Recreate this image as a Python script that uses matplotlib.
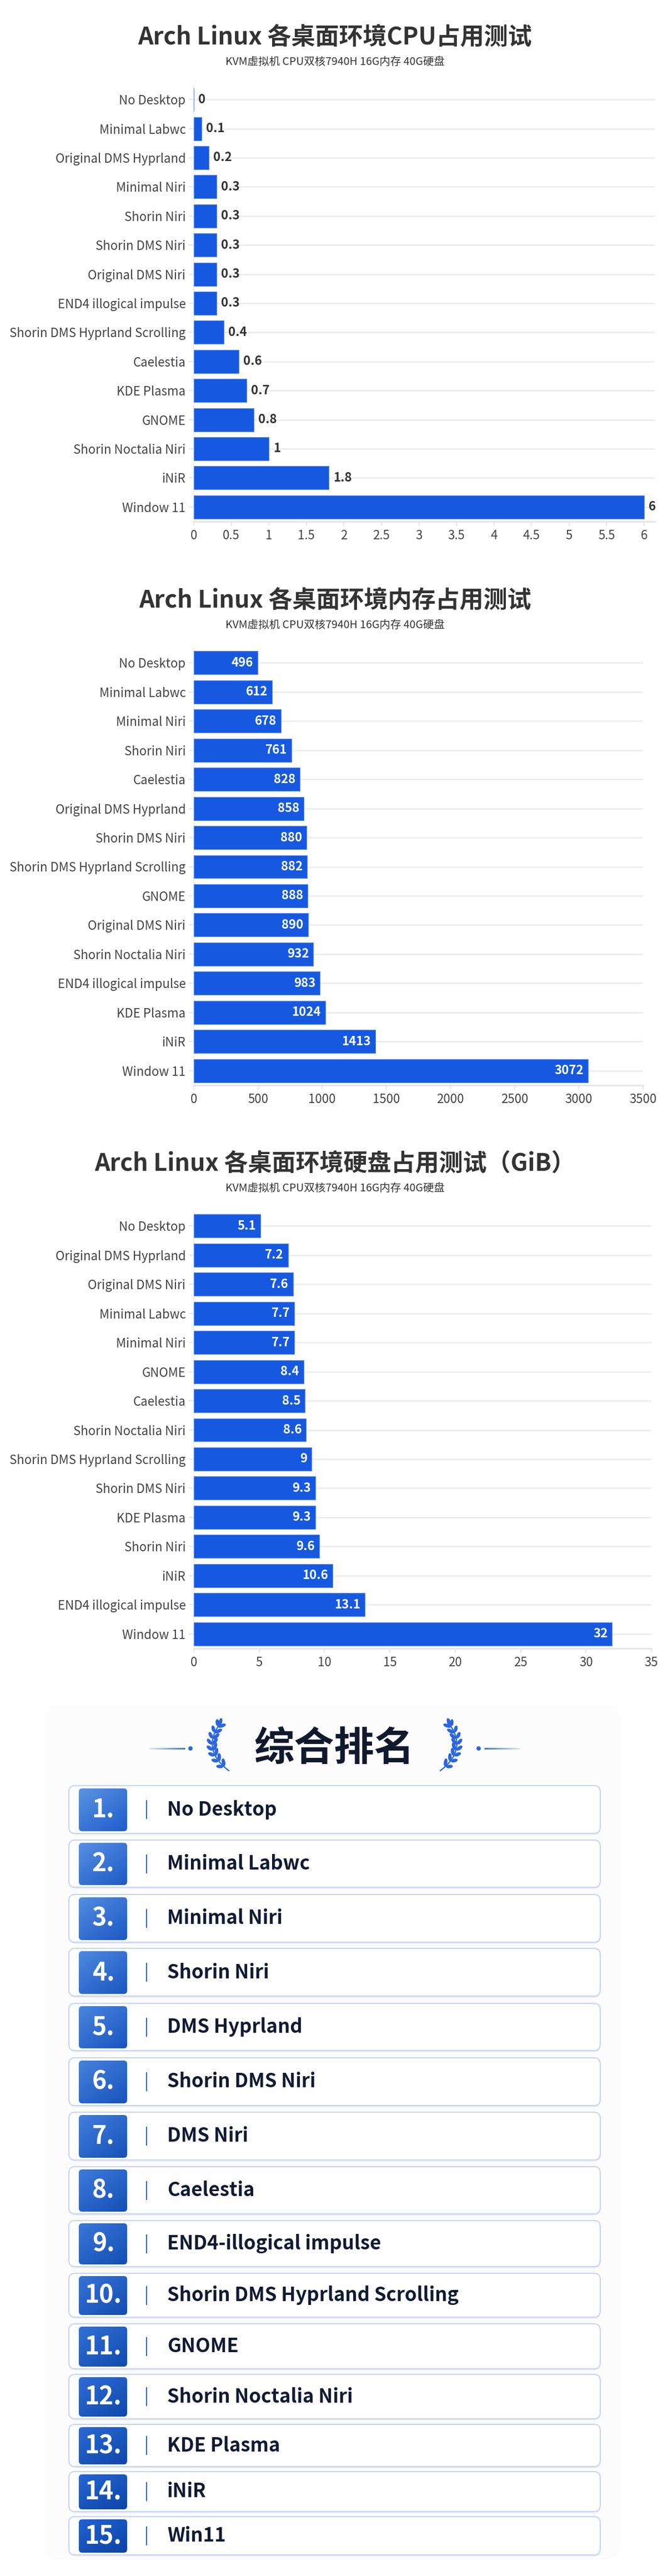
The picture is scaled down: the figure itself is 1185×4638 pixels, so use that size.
#!/usr/bin/env python3

import numpy as np
import matplotlib
matplotlib.use("Agg")
import matplotlib.pyplot as plt
from matplotlib.patches import FancyBboxPatch, Ellipse, Circle
from matplotlib.colors import to_rgb


W, H = 1185, 4638
SUBTITLE = "KVM虚拟机 CPU双核7940H 16G内存 40G硬盘"

CPU_NAMES = ["No Desktop", "Minimal Labwc", "Original DMS Hyprland", "Minimal Niri",
             "Shorin Niri", "Shorin DMS Niri", "Original DMS Niri", "END4 illogical impulse",
             "Shorin DMS Hyprland Scrolling", "Caelestia", "KDE Plasma", "GNOME",
             "Shorin Noctalia Niri", "iNiR", "Window 11"]
CPU_VALUES = [0, 0.1, 0.2, 0.3, 0.3, 0.3, 0.3, 0.3, 0.4, 0.6, 0.7, 0.8, 1, 1.8, 6]

MEM_NAMES = ["No Desktop", "Minimal Labwc", "Minimal Niri", "Shorin Niri", "Caelestia",
             "Original DMS Hyprland", "Shorin DMS Niri", "Shorin DMS Hyprland Scrolling",
             "GNOME", "Original DMS Niri", "Shorin Noctalia Niri", "END4 illogical impulse",
             "KDE Plasma", "iNiR", "Window 11"]
MEM_VALUES = [496, 612, 678, 761, 828, 858, 880, 882, 888, 890, 932, 983, 1024, 1413, 3072]

DISK_NAMES = ["No Desktop", "Original DMS Hyprland", "Original DMS Niri", "Minimal Labwc",
              "Minimal Niri", "GNOME", "Caelestia", "Shorin Noctalia Niri",
              "Shorin DMS Hyprland Scrolling", "Shorin DMS Niri", "KDE Plasma", "Shorin Niri",
              "iNiR", "END4 illogical impulse", "Window 11"]
DISK_VALUES = [5.1, 7.2, 7.6, 7.7, 7.7, 8.4, 8.5, 8.6, 9, 9.3, 9.3, 9.6, 10.6, 13.1, 32]

RANKING = ["No Desktop", "Minimal Labwc", "Minimal Niri", "Shorin Niri", "DMS Hyprland",
           "Shorin DMS Niri", "DMS Niri", "Caelestia", "END4-illogical impulse",
           "Shorin DMS Hyprland Scrolling", "GNOME", "Shorin Noctalia Niri", "KDE Plasma",
           "iNiR", "Win11"]

# row box edges in pixels (layout of the ranking card)
ROW_TOPS = [3215, 3313, 3411, 3508, 3607, 3705, 3803, 3901, 3998, 4093, 4184, 4275, 4365, 4450, 4531]
ROW_BOTS = [3301, 3398, 3497, 3594, 3692, 3791, 3889, 3986, 4081, 4172, 4265, 4355, 4441, 4522, 4600]

BAR = "#1659e0"


def fy(y):
    return 1 - y / H


def bar_chart(fig, top, bottom, right, names, values, xmax, ticks, ticklabels, inside, title):
    left = 349
    ax = fig.add_axes([left / W, fy(bottom), (right - left) / W, (bottom - top) / H])
    n = len(names)
    y = np.arange(n)
    ax.barh(y, values, height=0.8, color=BAR, edgecolor="#5b8cf0", linewidth=0.8, zorder=3)
    ax.set_ylim(n - 0.5, -0.5)
    ax.set_xlim(0, xmax)
    ax.set_yticks(y)
    ax.set_yticklabels(names, fontsize=16, color="#444444")
    ax.set_xticks(ticks)
    ax.set_xticklabels(ticklabels, fontsize=16, color="#444444")
    ax.tick_params(axis="y", length=6.5, width=1.2, color="#e2e2e2", pad=4)
    ax.tick_params(axis="x", length=6, width=1.2, color="#e2e2e2", pad=4)
    ax.grid(axis="y", color="#ececec", linewidth=1.8, zorder=0)
    ax.grid(axis="x", visible=False)
    for s in ["top", "right"]:
        ax.spines[s].set_visible(False)
    ax.spines["left"].set_color("#eeeeee")
    ax.spines["left"].set_linewidth(1.2)
    ax.spines["bottom"].set_color("#e6e6e6")
    ax.spines["bottom"].set_linewidth(2.2)
    ax.set_axisbelow(True)
    for i, v in enumerate(values):
        label = "{:g}".format(v)
        if inside:
            ax.annotate(label, (v, i), xytext=(-8, 0), textcoords="offset pixels",
                        ha="right", va="center", fontsize=16, color="white",
                        fontweight="bold", zorder=4)
        else:
            ax.annotate(label, (v, i), xytext=(8, 0), textcoords="offset pixels",
                        ha="left", va="center", fontsize=16, color="#333333",
                        fontweight="bold", zorder=4)
    fig.text(603 / W, fy(top - 86), title, ha="center", va="center", fontsize=31,
             fontweight="bold", color="#333333")
    fig.text(603 / W, fy(top - 42), SUBTITLE, ha="center", va="center", fontsize=14,
             color="#333333")
    return ax


def laurel(ov, mirror):
    def mx(x):
        return 1205 - x if mirror else x
    p0 = np.array([412.0, 3188.0])
    p1 = np.array([362.0, 3150.0])
    p2 = np.array([396.0, 3104.0])
    ts = np.linspace(0, 1, 60)
    pts = np.outer((1 - ts) ** 2, p0) + np.outer(2 * (1 - ts) * ts, p1) + np.outer(ts ** 2, p2)
    ov.plot([mx(x) for x in pts[:, 0]], pts[:, 1], color="#2a66de", lw=1.6, zorder=3)
    for t in np.linspace(0.1, 0.95, 8):
        p = (1 - t) ** 2 * p0 + 2 * (1 - t) * t * p1 + t ** 2 * p2
        d = 2 * (1 - t) * (p1 - p0) + 2 * t * (p2 - p1)
        d = d / np.hypot(*d)
        nrm = np.array([-d[1], d[0]])
        for side in (-1, 1):
            rot = np.deg2rad(38 * side)
            ld = np.array([d[0] * np.cos(rot) - d[1] * np.sin(rot),
                           d[0] * np.sin(rot) + d[1] * np.cos(rot)])
            c = p + ld * 6.5 + nrm * side * 1.0
            ang = np.degrees(np.arctan2(ld[1], ld[0]))
            if mirror:
                c = np.array([1205 - c[0], c[1]])
                ang = 180 - ang
            size = 13 if side == 1 else 11
            ov.add_patch(Ellipse(c, size, 5, angle=ang, color="#2a66de", zorder=3))
    tip = p2 + np.array([1, -4])
    ov.add_patch(Ellipse((mx(tip[0]), tip[1]), 5, 12, angle=15 if not mirror else -15,
                         color="#2a66de", zorder=3))


def ranking(ov):
    ov.add_patch(FancyBboxPatch((80, 3070), 1036, 1538, boxstyle="round,pad=0,rounding_size=24",
                                facecolor="#fcfcfd", edgecolor="none", zorder=0))
    ov.text(602, 3150, "综合排名", ha="center", va="center", fontsize=52,
            fontweight="bold", color="#111a2c", zorder=3)
    # side decorations
    for mirror in (False, True):
        laurel(ov, mirror)
        xs = np.linspace(268, 333, 20)
        for a, b, k in zip(xs[:-1], xs[1:], range(19)):
            xa, xb = (a, b) if not mirror else (1205 - a, 1205 - b)
            ov.plot([xa, xb], [3148, 3148], color="#2a66de", lw=2, alpha=0.15 + 0.85 * k / 18,
                    solid_capstyle="butt", zorder=2)
        ov.add_patch(Circle((343 if not mirror else 862, 3148), 3.2, color="#2a66de", zorder=3))

    light_top = np.array(to_rgb("#5a93e4"))
    dark_top = np.array(to_rgb("#2161d2"))
    light_bot = np.array(to_rgb("#1f5cc9"))
    dark_bot = np.array(to_rgb("#0c44a4"))
    for i, (name, top, bot) in enumerate(zip(RANKING, ROW_TOPS, ROW_BOTS)):
        h = bot - top
        ov.add_patch(FancyBboxPatch((126, top + 3), 955, h, boxstyle="round,pad=0,rounding_size=11",
                                    facecolor="#eceff6", edgecolor="none", zorder=1))
        ov.add_patch(FancyBboxPatch((124, top), 957, h, boxstyle="round,pad=0,rounding_size=11",
                                    facecolor="white", edgecolor="#c6d6f1", lw=1.5, zorder=1.5))
        bt, bb = top + 5, bot - 4
        badge = FancyBboxPatch((142, bt), 87, bb - bt, boxstyle="round,pad=0,rounding_size=6",
                               facecolor="none", edgecolor="none", zorder=2)
        ov.add_patch(badge)
        f = i / 14
        c0 = light_top * (1 - f) + dark_top * f
        c1 = light_bot * (1 - f) + dark_bot * f
        gx, gy = np.meshgrid(np.linspace(0, 1, 40), np.linspace(0, 1, 40))
        g = np.clip(0.55 * gy + 0.45 * gx, 0, 1)[..., None]
        img = c0 * (1 - g) + c1 * g
        im = ov.imshow(img, extent=(142, 229, bb, bt), aspect="auto", zorder=2,
                       interpolation="bilinear")
        im.set_clip_path(badge)
        cy = (top + bot) / 2
        ov.text(186, cy + 1, "{}.".format(i + 1), ha="center", va="center", fontsize=32,
                fontweight="bold", color="white", zorder=3)
        ov.plot([264, 264], [cy - 16, cy + 16], color="#2a62d0", lw=1.4, zorder=3)
        ov.text(301, cy, name, ha="left", va="center", fontsize=25, fontweight="bold",
                color="#0f1b33", zorder=3)


if __name__ == "__main__":
    plt.rcParams["font.family"] = ["Noto Sans CJK SC", "DejaVu Sans"]
    fig = plt.figure(figsize=(W / 100, H / 100), dpi=100)
    fig.patch.set_facecolor("white")

    bar_chart(fig, 153, 939, 1179, CPU_NAMES, CPU_VALUES, 6.14, np.arange(0, 6.01, 0.5),
              ["{:g}".format(t) for t in np.arange(0, 6.01, 0.5)], False,
              "Arch Linux 各桌面环境CPU占用测试")
    bar_chart(fig, 1167, 1954, 1158, MEM_NAMES, MEM_VALUES, 3500, range(0, 3501, 500),
              [str(t) for t in range(0, 3501, 500)], True,
              "Arch Linux 各桌面环境内存占用测试")
    bar_chart(fig, 2181, 2968, 1173, DISK_NAMES, DISK_VALUES, 35, range(0, 36, 5),
              [str(t) for t in range(0, 36, 5)], True,
              "Arch Linux 各桌面环境硬盘占用测试（GiB）")

    ov = fig.add_axes([0, 0, 1, 1], zorder=-1)
    ranking(ov)
    ov.set_xlim(0, W)
    ov.set_ylim(H, 0)
    ov.axis("off")

    fig.savefig("out.png", dpi=100, facecolor="white")
